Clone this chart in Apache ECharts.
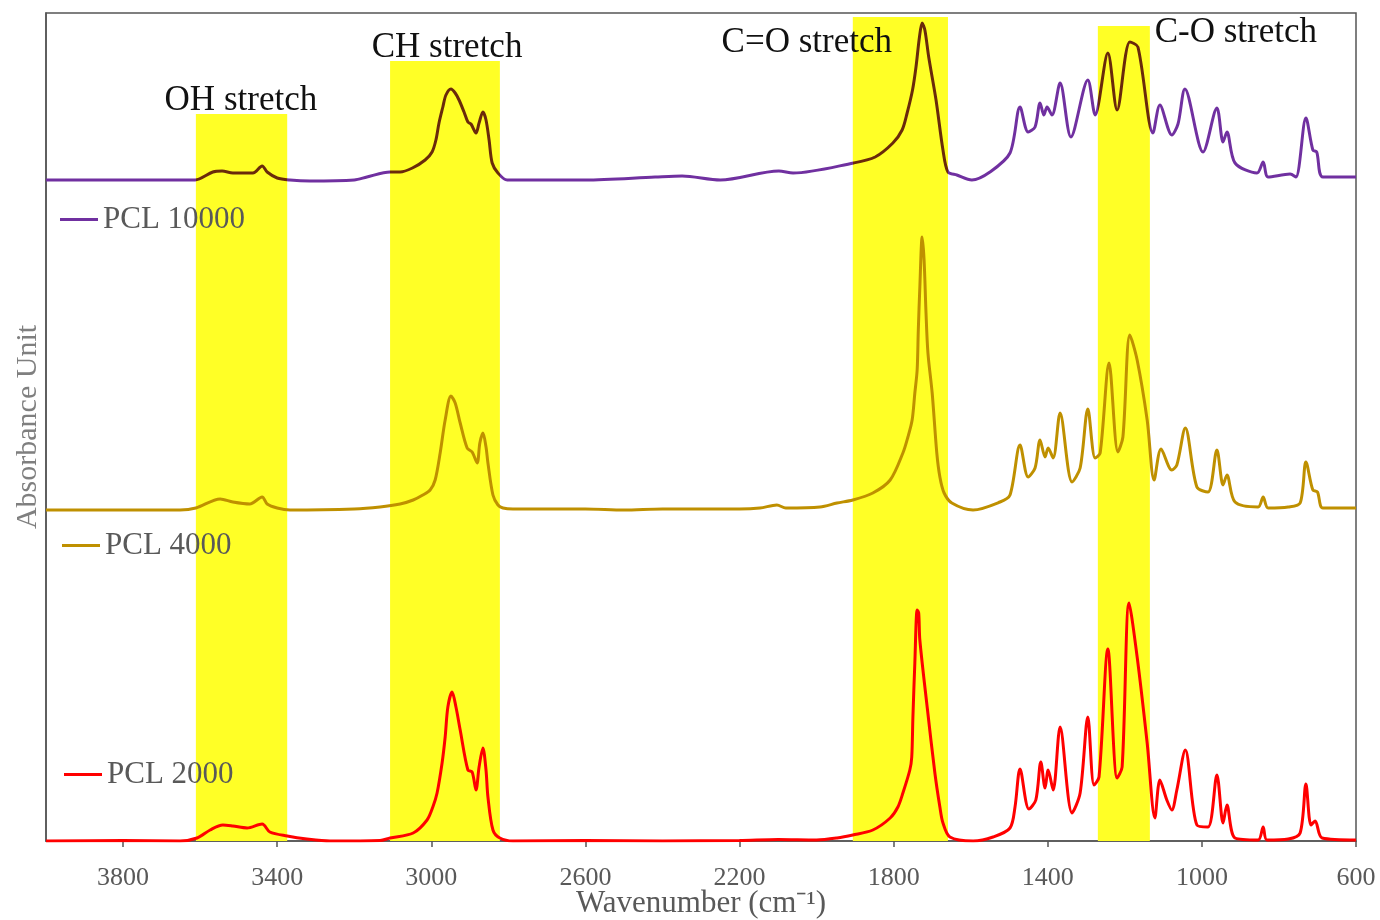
<!DOCTYPE html>
<html><head><meta charset="utf-8">
<script src="https://cdn.jsdelivr.net/npm/echarts@6/dist/echarts.min.js"></script>
<style>html,body{margin:0;padding:0;background:#fff}#c{width:1380px;height:920px}</style>
</head><body><div id="c"></div>
<script>
// Spectra: [wavenumber (cm-1), absorbance (arbitrary units, stacked offsets included)]
const pcl2000 = [[4000,0],[3800,0.5],[3652,0],[3608,3],[3574,11],[3541,16],[3515,15],[3478,13],[3439,17],[3419,9],[3374,5],[3323,2],[3263,0],[3133,0.5],[3107,3],[3047,8],[3011,21],[2996,34],[2985,48],[2972,78],[2964,104],[2957,134],[2946,149],[2936,134],[2925,111],[2905,71],[2894,69],[2884,51],[2876,74],[2866,93],[2858,71],[2853,44],[2840,11],[2822,3],[2788,0],[2600,0.5],[2400,0],[2200,0.5],[2100,1.5],[2000,1],[1947,3],[1906,6],[1854,11],[1809,23],[1789,34],[1776,48],[1758,71],[1753,84],[1750,124],[1745,178],[1739,231],[1735,228],[1732,201],[1713,134],[1693,68],[1680,34],[1672,18],[1654,4],[1594,0],[1542,4],[1498,13],[1485,34],[1472,72],[1449,32],[1431,41],[1418,79],[1407,53],[1399,71],[1386,51],[1368,114],[1337,28],[1316,48],[1296,124],[1280,56],[1267,64],[1244,192],[1220,63],[1207,74],[1189,238],[1168,184],[1142,98],[1122,23],[1109,61],[1091,41],[1078,31],[1065,51],[1043,91],[1013,16],[984,14],[961,66],[945,18],[935,36],[914,3],[854,1],[841,14],[831,1],[776,2],[745,8],[730,57],[717,16],[706,20],[688,3],[600,1]];
const pcl4000 = [[4000,331],[3800,331],[3652,331],[3611,333],[3548,342],[3515,339],[3471,337],[3439,344],[3426,337],[3400,333],[3367,331],[3200,332],[3133,334],[3081,337],[3047,341],[3022,346],[3003,351],[2990,361],[2977,388],[2964,421],[2949,445],[2938,438],[2925,418],[2907,393],[2894,389],[2881,378],[2874,398],[2866,408],[2858,394],[2853,378],[2840,346],[2827,336],[2814,333],[2788,332],[2600,332],[2500,331],[2400,332],[2300,332],[2200,332],[2147,333],[2103,336],[2080,333],[1991,334],[1947,338],[1906,341],[1854,348],[1809,361],[1776,388],[1763,404],[1752,421],[1745,448],[1739,471],[1736,511],[1732,554],[1726,604],[1721,581],[1716,528],[1711,488],[1700,448],[1688,388],[1680,364],[1669,348],[1649,338],[1594,331],[1524,339],[1498,346],[1472,396],[1451,364],[1433,373],[1420,401],[1407,384],[1399,393],[1386,383],[1368,428],[1337,359],[1316,373],[1296,432],[1277,383],[1264,388],[1241,478],[1218,389],[1205,404],[1187,506],[1168,481],[1142,421],[1124,361],[1106,392],[1078,371],[1065,376],[1043,413],[1013,354],[984,349],[961,391],[945,356],[935,366],[914,339],[854,334],[841,344],[828,333],[776,334],[745,338],[730,379],[712,351],[700,349],[686,333],[600,333]];
const pcl10000 = [[4000,661],[3800,661],[3652,661],[3613,661],[3567,669],[3543,670],[3515,668],[3463,668],[3439,675],[3426,669],[3400,663],[3367,661],[3315,660],[3200,661],[3167,664],[3107,669],[3081,669],[3049,673],[3016,681],[2998,689],[2988,701],[2980,718],[2970,734],[2962,746],[2949,752],[2938,748],[2928,741],[2915,729],[2905,719],[2897,717],[2884,708],[2876,718],[2866,729],[2858,721],[2850,701],[2842,678],[2827,668],[2803,661],[2600,661],[2419,664],[2349,665],[2250,661],[2098,670],[2061,668],[1904,678],[1848,684],[1802,698],[1778,711],[1765,728],[1751,751],[1742,774],[1733,804],[1726,818],[1719,811],[1709,784],[1690,741],[1672,691],[1659,669],[1636,666],[1597,661],[1550,669],[1498,688],[1472,734],[1451,709],[1433,714],[1420,738],[1410,726],[1402,734],[1389,726],[1368,758],[1340,704],[1296,761],[1277,726],[1244,788],[1220,731],[1187,799],[1166,794],[1127,708],[1109,736],[1078,706],[1062,717],[1044,752],[997,689],[961,733],[945,699],[935,709],[914,678],[857,668],[841,679],[828,664],[771,667],[756,664],[730,723],[712,691],[702,689],[686,664],[600,664]];

const seriesNames = ['PCL 10000', 'PCL 4000', 'PCL 2000'];

// Highlighted bands
const bandNames = ['OH stretch', 'CH stretch', 'C=O stretch', 'C-O stretch'];
const bandFrom = [3611, 3107, 1906, 1270];
const bandTo = [3374, 2822, 1659, 1135];
const bandTop = [727, 780, 824, 815];

const FONT = "'Liberation Serif','Times New Roman',serif";
const colors = ['#7030A0', '#BF9000', '#FF0000'];
const labelPos = [[45, -13], [57, -13], [-46, 26], [138, 7]];

const chart = echarts.init(document.getElementById('c'), null, {renderer: 'canvas'});

const markData = bandNames.map((n, i) => [
  {name: n, xAxis: bandFrom[i], yAxis: 0, label: {position: labelPos[i]}},
  {xAxis: bandTo[i], yAxis: bandTop[i]}
]);

const legendPos = [[55, 199], [57, 525], [59, 754]];

chart.setOption({
  animation: false,
  backgroundColor: '#fff',
  grid: {left: 46, right: 24, top: 13, bottom: 79, show: true, borderColor: '#555', borderWidth: 1.5,
         outerBoundsMode: 'none', containLabel: false},
  xAxis: {
    type: 'value', inverse: true, min: 600, max: 4000, interval: 400,
    name: 'Wavenumber (cm\u207B\u00B9)', nameLocation: 'middle', nameGap: 47, nameMoveOverlap: false,
    nameTextStyle: {fontFamily: FONT, fontSize: 31, color: '#595959'},
    axisLine: {lineStyle: {color: '#555', width: 1.5}},
    axisTick: {show: true, length: 6, inside: false, lineStyle: {color: '#555', width: 1.5}},
    axisLabel: {fontFamily: FONT, fontSize: 26, color: '#595959', margin: 24, showMaxLabel: false,
                formatter: v => String(v)},
    splitLine: {show: false}
  },
  yAxis: {
    type: 'value', min: 0, max: 828,
    name: 'Absorbance Unit', nameLocation: 'middle', nameGap: 3, nameRotate: 90, nameMoveOverlap: false,
    nameTextStyle: {fontFamily: FONT, fontSize: 30, color: '#7f7f7f'},
    axisLine: {show: true, lineStyle: {color: '#555', width: 1.5}},
    axisTick: {show: false}, axisLabel: {show: false}, splitLine: {show: false}
  },
  visualMap: [{
    show: false, type: 'piecewise', seriesIndex: 1, dimension: 0,
    pieces: bandNames.map((n, i) => ({gte: bandTo[i], lte: bandFrom[i], color: '#6a2a0a'})),
    outOfRange: {color: colors[0]}
  }],
  legend: seriesNames.map((n, i) => ({
    data: [{name: n, icon: 'rect', itemStyle: {color: colors[i]}}],
    left: legendPos[i][0], top: legendPos[i][1],
    itemWidth: 38, itemHeight: 3,
    textStyle: {fontFamily: FONT, fontSize: 31, color: '#595959'},
    selectedMode: false
  })),
  series: [
    {
      name: 'bands', type: 'line', data: [], z: 1, silent: true,
      markArea: {
        silent: true,
        itemStyle: {color: '#FFFF26', opacity: 1},
        label: {show: true, fontFamily: FONT, fontSize: 35, color: '#111', align: 'center', verticalAlign: 'middle'},
        data: markData
      }
    },
    {name: seriesNames[0], type: 'line', data: pcl10000, z: 3, showSymbol: false, symbol: 'none',
     smooth: 0.3, lineStyle: {width: 3}},
    {name: seriesNames[1], type: 'line', data: pcl4000, z: 3, showSymbol: false, symbol: 'none',
     smooth: 0.3, lineStyle: {width: 3, color: colors[1]}, itemStyle: {color: colors[1]}},
    {name: seriesNames[2], type: 'line', data: pcl2000, z: 3, showSymbol: false, symbol: 'none',
     smooth: 0.3, lineStyle: {width: 3, color: colors[2]}, itemStyle: {color: colors[2]}}
  ]
});
</script>
</body></html>
